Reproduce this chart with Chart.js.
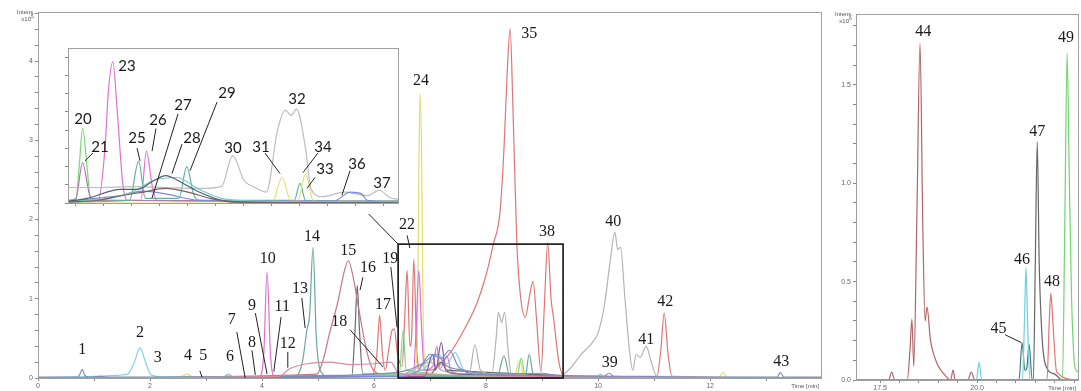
<!DOCTYPE html>
<html>
<head>
<meta charset="utf-8">
<script src="https://cdn.jsdelivr.net/npm/chart.js@4.4.0/dist/chart.umd.min.js"></script>
<style>
  html, body { margin: 0; padding: 0; background: #fff; }
  #wrap { position: relative; width: 1081px; height: 391px; overflow: hidden; }
  #mainBox { position: absolute; left: 0; top: 0; }
  #rightBox { position: absolute; left: 830px; top: 0; }
  #insetBox { position: absolute; left: 50px; top: 42px; background: #fff; }
</style>
</head>
<body>
<div id="wrap">
  <div id="mainBox"><canvas id="mainChart" width="830" height="391"></canvas></div>
  <div id="rightBox"><canvas id="rightChart" width="251" height="391"></canvas></div>
  <div id="insetBox"><canvas id="insetChart" width="352" height="172"></canvas></div>
</div>
<script>
// ---- main chromatogram, time [min] vs intensity x10^5 ----
const mainXTickLabels = [0, 2, 4, 6, 8, 10, 12];
const mainYTickLabels = [0, 1, 2, 3, 4];

const mainSteel = [[0,0.01],[0.7,0.01],[0.75,0.05],[0.79,0.11],[0.83,0.04],[0.9,0.01],[1.1,0.02],[1.3,0.01],[3.0,0.01],[4.0,0.02],[5.0,0.03],[6.0,0.05],[6.6,0.1],[6.9,0.2],[7.1,0.3],[7.3,0.15],[7.6,0.1],[8.0,0.05],[9.0,0.06],[9.4,0.02],[10.1,0.02],[10.2,0.06],[10.28,0.02],[12,0.01],[13.2,0.01],[13.25,0.07],[13.32,0.01],[14,0.01]];
const mainCyan = [[0,0.005],[1.0,0.02],[1.3,0.03],[1.6,0.05],[1.72,0.2],[1.82,0.38],[1.92,0.2],[2.02,0.04],[2.3,0.01],[3.3,0.01],[3.4,0.05],[3.5,0.01],[4.5,0.02],[6.5,0.05],[6.9,0.12],[7.15,0.3],[7.3,0.18],[7.45,0.32],[7.6,0.1],[7.9,0.02],[10,0.03],[10.05,0.05],[10.1,0.01],[14,0.005]];
const mainYellow = [[0,0],[2.5,0],[2.66,0.05],[2.8,0],[6.7,0.02],[6.77,0.4],[6.8,2.6],[6.82,3.59],[6.85,2.8],[6.88,0.5],[6.95,0.05],[8.5,0.02],[8.6,0.22],[8.68,0.02],[12.15,0],[12.23,0.07],[12.31,0],[14,0]];
const mainMagenta = [[0,0],[3.95,0.01],[4.03,0.3],[4.09,1.34],[4.15,0.3],[4.22,0.02],[6.7,0.05],[6.75,0.6],[6.8,1.36],[6.85,0.6],[6.9,0.1],[7.05,0.15],[7.12,0.4],[7.18,0.12],[7.3,0.28],[7.38,0.08],[8,0.02],[14,0]];
const mainTeal = [[0,0],[4.6,0.02],[4.72,0.2],[4.8,0.6],[4.85,0.8],[4.91,1.65],[4.97,0.5],[5.05,0.08],[5.2,0.02],[8.2,0.02],[8.32,0.28],[8.42,0.03],[8.7,0.02],[8.77,0.3],[8.85,0.02],[14,0]];
const mainRose = [[0,0],[4.98,0.05],[5.1,0.25],[5.2,0.55],[5.35,0.95],[5.47,1.35],[5.54,1.48],[5.62,1.3],[5.72,0.9],[5.85,0.4],[5.95,0.15],[6.1,0.05],[14,0]];
const mainDark = [[0,0],[5.6,0.02],[5.66,0.6],[5.7,1.17],[5.74,0.6],[5.8,0.05],[7.0,0.05],[7.2,0.2],[7.3,0.1],[14,0]];
const mainRed = [[0,0],[5.95,0.02],[6.05,0.3],[6.1,0.79],[6.15,0.3],[6.2,0.1],[6.26,0.35],[6.32,0.6],[6.36,0.62],[6.42,0.3],[6.5,0.15],[6.55,0.8],[6.59,1.36],[6.64,0.4],[6.67,0.5],[6.71,1.5],[6.76,0.4],[6.82,0.1],[7.0,0.1],[7.36,0.32],[7.6,0.6],[7.84,0.95],[8.0,1.3],[8.13,1.69],[8.25,2.1],[8.32,2.9],[8.38,3.9],[8.43,4.41],[8.48,3.4],[8.55,1.69],[8.62,1.0],[8.7,0.77],[8.78,1.05],[8.84,1.22],[8.9,0.75],[8.98,0.08],[9.04,0.9],[9.1,1.71],[9.16,1.0],[9.21,0.73],[9.3,0.2],[9.4,0.02],[11.05,0.02],[11.12,0.35],[11.18,0.82],[11.25,0.3],[11.32,0.02],[14,0]];
const mainGray = [[0,0],[6.5,0.05],[6.7,0.1],[7.0,0.2],[7.2,0.1],[7.7,0.05],[7.8,0.42],[7.9,0.1],[8.1,0.05],[8.18,0.5],[8.22,0.83],[8.28,0.7],[8.33,0.83],[8.4,0.3],[8.45,0.05],[9.3,0.02],[9.5,0.12],[9.7,0.3],[9.9,0.45],[10.0,0.57],[10.12,0.95],[10.22,1.5],[10.3,1.84],[10.35,1.62],[10.4,1.65],[10.48,1.0],[10.56,0.35],[10.62,0.1],[10.68,0.3],[10.75,0.26],[10.86,0.4],[10.95,0.2],[11.05,0.02],[14,0]];
const mainPink = [[0,0],[4.3,0.02],[4.5,0.12],[4.8,0.18],[5.2,0.2],[5.6,0.17],[6.0,0.18],[6.3,0.2],[6.45,0.05],[14,0]];
const mainGreen = [[0,0],[3.3,0.01],[3.4,0.04],[3.5,0.01],[6.45,0.05],[6.52,0.6],[6.57,0.1],[8.55,0.02],[8.63,0.25],[8.7,0.02],[14,0]];
const mainBlue = [[0,0],[6.5,0.02],[6.8,0.1],[7.0,0.3],[7.2,0.25],[7.35,0.35],[7.5,0.15],[7.8,0.05],[14,0]];
const mainPurple = [[0,0],[6.9,0.02],[7.05,0.3],[7.1,0.1],[7.2,0.45],[7.28,0.1],[7.5,0.05],[14,0]];

// peak numbers [text, time, intensity] and leader lines [t1, i1, t2, i2]
const mainPeakLabels = [
  ['1',0.79,0.35],['2',1.82,0.57],['3',2.14,0.25],['4',2.68,0.28],['5',2.95,0.28],['6',3.43,0.27],
  ['7',3.46,0.73],['8',3.82,0.44],['9',3.82,0.91],['10',4.1,1.5],['11',4.36,0.9],['12',4.46,0.43],
  ['13',4.68,1.13],['14',4.89,1.78],['15',5.54,1.6],['16',5.89,1.39],['17',6.16,0.92],['18',5.38,0.71],
  ['19',6.29,1.5],['22',6.59,1.94],['24',6.84,3.75],['35',8.77,4.35],['38',9.09,1.84],['39',10.21,0.19],
  ['40',10.27,1.97],['41',10.86,0.48],['42',11.2,0.96],['43',13.27,0.2]
];
const mainLeaders = [
  [2.89,0.09,2.93,0.01],[3.55,0.58,3.70,0],[3.82,0.35,3.88,0.04],[3.88,0.82,4.09,0.05],
  [4.34,0.77,4.21,0.08],[4.46,0.33,4.46,0.13],[4.71,1.01,4.77,0.63],[5.8,1.27,5.75,1.11],
  [5.57,0.61,6.16,0.14],[6.30,1.40,6.41,0.64],[6.59,1.80,6.64,1.64],[5.71,2.21,6.43,1.69]
];
const zoomWindow = [6.43, 0, 9.375, 1.69];

// ---- right panel, intensity x10^6 ----
const rightXTickLabels = [17.5, 20.0];
const rightYTickLabels = [0.0, 0.5, 1.0, 1.5];
const rightBrown = [[16.88,0],[17.72,0],[17.8,0.04],[17.88,0],[18.2,0],[18.27,0.15],[18.32,0.31],[18.37,0.07],[18.45,0.85],[18.53,1.71],[18.6,0.8],[18.66,0.3],[18.71,0.37],[18.8,0.2],[18.9,0.12],[19.0,0.07],[19.15,0.03],[19.32,0],[19.38,0.05],[19.44,0],[19.76,0],[19.85,0.04],[19.94,0],[22.6,0]];
const rightCyan = [[16.88,0],[19.98,0],[20.05,0.09],[20.12,0],[21.17,0],[21.22,0.3],[21.26,0.57],[21.3,0.3],[21.36,0],[22.6,0]];
const rightTeal = [[16.88,0],[21.08,0],[21.16,0.19],[21.23,0.05],[21.28,0.06],[21.34,0.18],[21.42,0],[22.6,0]];
const rightDark = [[16.88,0],[21.45,0],[21.5,0.6],[21.55,1.21],[21.6,0.6],[21.68,0.2],[21.8,0.06],[22.0,0.03],[22.2,0],[22.6,0]];
const rightRed = [[16.88,0],[21.8,0],[21.86,0.3],[21.9,0.44],[21.95,0.3],[22.05,0.04],[22.6,0]];
const rightGreen = [[16.88,0],[22.2,0],[22.26,0.8],[22.32,1.66],[22.37,1.1],[22.43,0.45],[22.5,0.1],[22.55,0.05],[22.6,0.04]];
const rightPeakLabels = [['44',18.61,1.77],['45',20.55,0.26],['46',21.16,0.61],['47',21.55,1.26],['48',21.93,0.5],['49',22.29,1.74]];
const rightLeaders = [[20.72,0.23,21.14,0.19]];

// ---- inset (zoom of 6.4-9.4 min) ----
const insetGreen = [[6.43,0.2],[6.5,0.3],[6.53,4],[6.56,8.2],[6.6,4],[6.63,0.5],[6.8,0.3],[7.5,0.2],[9.375,0.1]];
const insetMauve = [[6.43,0.3],[6.5,0.5],[6.56,4.4],[6.62,1],[6.66,0.3],[9.375,0.2]];
const insetMagenta = [[6.43,0.1],[6.7,0.3],[6.76,6],[6.79,12.2],[6.83,15.5],[6.87,10],[6.92,2],[6.96,0.3],[7.08,0.3],[7.13,5.7],[7.18,2],[7.22,0.3],[9.375,0.1]];
const insetTeal = [[6.43,0.1],[6.98,0.3],[7.06,4.6],[7.12,0.5],[7.42,0.5],[7.49,4.0],[7.55,1],[7.6,0.3],[8.45,0.3],[8.5,2.15],[8.55,0.3],[9.375,0.2]];
const insetGray = [[6.43,1.7],[6.7,1.7],[7.0,1.8],[7.3,1.7],[7.6,1.6],[7.8,1.8],[7.9,5.2],[8.0,2.5],[8.1,1.7],[8.2,1.2],[8.3,8],[8.37,10.2],[8.42,9.6],[8.47,10.3],[8.55,6],[8.6,1.5],[8.7,0.7],[8.9,1.2],[9.0,1.0],[9.1,0.8],[9.21,1.4],[9.3,0.6],[9.375,0.4]];
const insetYellow = [[6.43,0],[8.25,0],[8.34,2.8],[8.42,0.2],[8.48,0.2],[8.55,3.2],[8.62,0.2],[9.375,0]];
const insetBrown = [[6.43,0.1],[6.7,0.3],[6.9,0.8],[7.1,1.2],[7.3,1.6],[7.5,1.2],[7.7,0.5],[7.9,0.1],[9.375,0]];
const insetSlate = [[6.43,0.2],[6.6,0.5],[6.9,1.5],[7.05,1.5],[7.2,2.5],[7.3,3.0],[7.45,2.2],[7.6,1.2],[7.8,0.3],[8.0,0.1],[9.375,0]];
const insetAqua = [[6.43,0.2],[6.8,0.5],[7.0,1.2],[7.2,2.5],[7.4,2.8],[7.6,1.5],[7.8,0.5],[8.1,0.2],[9.375,0.1]];
const insetBlue = [[6.43,0.1],[6.6,0.4],[6.9,0.8],[7.1,1.3],[7.3,1.0],[7.6,0.3],[8.8,0.2],[8.95,1.2],[9.05,1.0],[9.1,0.3],[9.375,0.1]];
const insetPeakLabels = [
  ['20',6.564,9.25],['21',6.716,6.13],['23',6.957,15.06],['25',7.046,7.10],['26',7.233,9.15],
  ['27',7.456,10.76],['28',7.537,7.10],['29',7.849,12.05],['30',7.902,6.03],['31',8.152,6.13],
  ['32',8.474,11.41],['33',8.724,3.77],['34',8.706,6.13],['36',9.009,4.30],['37',9.232,2.15]
];
const insetLeaders = [
  [6.653,5.49,6.582,4.63],[7.046,6.03,7.073,4.63],[7.215,8.18,7.18,5.70],[7.412,9.79,7.18,0.54],
  [7.447,6.46,7.358,3.23],[7.76,11.08,7.519,3.55],[8.188,5.49,8.322,3.23],[8.661,5.49,8.527,3.34],
  [8.634,2.80,8.563,1.61],[8.947,3.55,8.875,0.86]
];

function trace(points, color) {
  return {
    data: points.map(p => ({ x: p[0], y: p[1] })),
    borderColor: color,
    borderWidth: 1.2,
    pointRadius: 0,
    fill: false,
    cubicInterpolationMode: 'monotone'
  };
}

// draws frame, peak numbers, leader lines and small axis captions
const marksPlugin = {
  id: 'marks',
  afterDatasetsDraw(chart, args, opts) {
    const { ctx, chartArea: a } = chart;
    const x = chart.scales.x, y = chart.scales.y;
    ctx.save();
    ctx.strokeStyle = '#a0a0a0';
    ctx.lineWidth = 1;
    ctx.strokeRect(Math.round(a.left) + 0.5, Math.round(a.top) + 0.5, Math.round(a.width), Math.round(a.height));

    if (opts.box) {
      const b = opts.box;
      ctx.strokeStyle = '#111';
      ctx.lineWidth = 1.6;
      const x1 = x.getPixelForValue(b[0]), y1 = y.getPixelForValue(b[3]);
      ctx.strokeRect(x1, y1, x.getPixelForValue(b[2]) - x1, y.getPixelForValue(b[1]) - y1);
    }

    ctx.strokeStyle = '#222';
    ctx.lineWidth = 1;
    (opts.leaders || []).forEach(l => {
      ctx.beginPath();
      ctx.moveTo(x.getPixelForValue(l[0]), y.getPixelForValue(l[1]));
      ctx.lineTo(x.getPixelForValue(l[2]), y.getPixelForValue(l[3]));
      ctx.stroke();
    });

    ctx.fillStyle = '#1a1a1a';
    ctx.font = opts.font;
    ctx.textAlign = 'center';
    ctx.textBaseline = 'middle';
    (opts.labels || []).forEach(l => {
      ctx.fillText(l[0], x.getPixelForValue(l[1]), y.getPixelForValue(l[2]));
    });

    if (opts.power) {
      ctx.fillStyle = '#555';
      ctx.font = '6px "Liberation Sans", Arial, sans-serif';
      ctx.textAlign = 'right';
      ctx.textBaseline = 'alphabetic';
      ctx.fillText('Intens.', a.left - 3, a.top + 2);
      ctx.fillText('x10', a.left - 7, a.top + 9);
      ctx.font = '5px "Liberation Sans", Arial, sans-serif';
      ctx.textAlign = 'left';
      ctx.fillText(opts.power, a.left - 7, a.top + 6);
      ctx.font = '6px "Liberation Sans", Arial, sans-serif';
      ctx.textAlign = 'right';
      ctx.fillText('Time [min]', a.right - 2, a.bottom + 10);
    }
    ctx.restore();
  }
};

function axes(xmin, xmax, xticks, xlabel, ymin, ymax, yticks, ylabel, yWidth, xHeight) {
  const tickFont = { size: 7, family: '"Liberation Sans", Arial, sans-serif' };
  return {
    x: {
      type: 'linear', min: xmin, max: xmax,
      afterBuildTicks: s => { s.ticks = xticks.map(v => ({ value: v })); },
      afterFit: s => { s.height = xHeight; },
      ticks: { autoSkip: false, maxRotation: 0, padding: 1, color: '#666', font: tickFont, callback: xlabel },
      grid: { drawOnChartArea: false, tickLength: 3, color: '#888' },
      border: { color: '#888' }
    },
    y: {
      type: 'linear', min: ymin, max: ymax,
      afterBuildTicks: s => { s.ticks = yticks.map(v => ({ value: v })); },
      afterFit: s => { s.width = yWidth; },
      ticks: { autoSkip: false, padding: 2, color: '#666', font: tickFont, callback: ylabel },
      grid: { drawOnChartArea: false, tickLength: 3, color: '#888' },
      border: { color: '#888' }
    }
  };
}

function stepTicks(from, to, step) {
  const out = [];
  for (let v = from; v <= to + 1e-9; v += step) out.push(Math.round(v * 100) / 100);
  return out;
}

const common = {
  responsive: false,
  animation: false,
  events: [],
  plugins: { legend: { display: false }, tooltip: { enabled: false } }
};

new Chart(document.getElementById('mainChart'), {
  type: 'line',
  data: {
    datasets: [
      trace(mainPink, '#d98aa5'), trace(mainSteel, '#7e8fb5'), trace(mainBlue, '#7b8bd3'),
      trace(mainPurple, '#8c559b'), trace(mainGreen, '#86d486'), trace(mainCyan, '#7dd3e2'),
      trace(mainGray, '#b3b3b3'), trace(mainTeal, '#6aa998'), trace(mainRose, '#c77783'),
      trace(mainDark, '#6b6b6b'), trace(mainMagenta, '#dc6fd6'), trace(mainYellow, '#e2dc72'),
      trace(mainRed, '#df7676')
    ]
  },
  options: {
    ...common,
    layout: { padding: { top: 12, right: 9, left: 0, bottom: 0 } },
    scales: axes(0, 13.98, stepTicks(0, 13, 1), v => mainXTickLabels.includes(v) ? String(v) : '',
                 0, 4.62, stepTicks(0, 4.6, 0.2), v => mainYTickLabels.includes(v) ? String(v) : '', 38, 13),
    plugins: {
      ...common.plugins,
      marks: { labels: mainPeakLabels, leaders: mainLeaders, box: zoomWindow, power: '5',
               font: '16px "Liberation Serif", "Times New Roman", serif' }
    }
  },
  plugins: [marksPlugin]
});

new Chart(document.getElementById('rightChart'), {
  type: 'line',
  data: {
    datasets: [
      trace(rightCyan, '#6ecfdf'), trace(rightTeal, '#3f7d78'), trace(rightRed, '#df7575'),
      trace(rightDark, '#666666'), trace(rightGreen, '#72d472'), trace(rightBrown, '#b0656a')
    ]
  },
  options: {
    ...common,
    layout: { padding: { top: 14, right: 3, left: 0, bottom: 0 } },
    scales: axes(16.88, 22.6, stepTicks(17.5, 22.5, 0.5), v => rightXTickLabels.includes(v) ? v.toFixed(1) : '',
                 0, 1.86, stepTicks(0, 1.8, 0.1), v => rightYTickLabels.includes(v) ? v.toFixed(1) : '', 26, 11),
    plugins: {
      ...common.plugins,
      marks: { labels: rightPeakLabels, leaders: rightLeaders, power: '6',
               font: '16px "Liberation Serif", "Times New Roman", serif' }
    }
  },
  plugins: [marksPlugin]
});

new Chart(document.getElementById('insetChart'), {
  type: 'line',
  data: {
    datasets: [
      trace(insetBrown, '#7a6060'), trace(insetSlate, '#4f5f6f'), trace(insetAqua, '#79cfc0'),
      trace(insetBlue, '#7b8bd6'), trace(insetGray, '#bdbdbd'), trace(insetYellow, '#e6de76'),
      trace(insetTeal, '#5fb3a3'), trace(insetMauve, '#b07aa8'), trace(insetGreen, '#77d777'),
      trace(insetMagenta, '#e070d8')
    ]
  },
  options: {
    ...common,
    layout: { padding: { top: 3, right: 4, left: 0, bottom: 0 } },
    scales: axes(6.43, 9.375, stepTicks(6.5, 9.25, 0.25), () => '',
                 0, 17, stepTicks(0, 16, 2), () => '', 18, 11),
    plugins: {
      ...common.plugins,
      marks: { labels: insetPeakLabels, leaders: insetLeaders,
               font: '15px Lato, "Open Sans", sans-serif' }
    }
  },
  plugins: [marksPlugin]
});
</script>
</body>
</html>
